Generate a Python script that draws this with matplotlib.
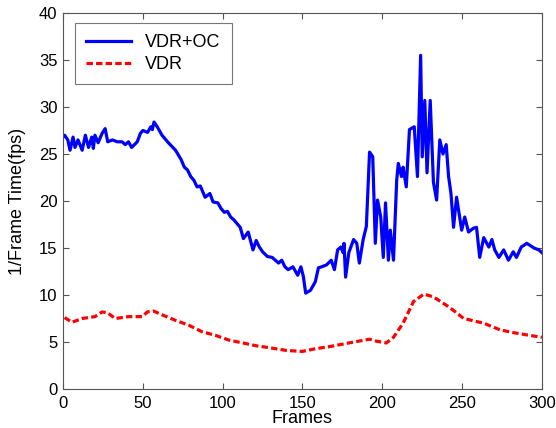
import numpy as np
import matplotlib.pyplot as plt

plt.rcParams['font.family'] = ['Liberation Sans', 'DejaVu Sans']

# --- data ---
blue_frames = [0, 1, 3, 4.4, 6.3, 7.5, 9.4, 12, 14, 16, 18, 19, 20, 22, 24.5, 26.4, 28, 31, 34, 37,
               39, 41, 43, 46.5, 48.5, 50, 53, 55, 56, 57, 59, 62, 66, 70.5, 74, 76, 78, 80, 82, 84, 86,
               89, 92, 94, 97, 99, 101, 103, 105, 107, 109, 111, 113, 116, 119, 121, 123, 125, 128, 131,
               133, 135, 137, 139, 141, 144, 147, 149,
               150.5, 152, 155, 158, 160, 162, 165, 168, 170, 172, 174, 175.5, 176, 177, 179, 182, 184,
               185.6, 188, 190, 192, 194, 195.6, 197, 199, 200.6, 202, 203.8, 205, 207, 209, 210, 212,
               213, 215, 217, 220, 222, 224, 225, 226.6, 228, 230, 232, 234, 236, 238, 240, 241.5, 243,
               244.6, 246.5, 248.4, 249.7, 251.6, 254, 257, 259, 261, 263.5, 266.7, 268.6, 270.4, 273,
               276, 279, 282, 284, 287, 290.5, 295, 298, 300]
vdr_oc = [26.8, 27.0, 26.5, 25.4, 26.8, 25.7, 26.5, 25.4, 27.0, 25.7, 26.8, 25.6, 27.0, 26.2, 27.2, 27.7,
          26.3, 26.5, 26.3, 26.3, 26.0, 26.3, 25.7, 26.3, 27.2, 27.5, 27.3, 27.9, 27.6, 28.4, 27.9, 27.0,
          26.2, 25.4, 24.4, 23.6, 23.3, 22.6, 22.2, 21.5, 21.6, 20.4, 20.8, 19.9, 19.8, 19.2, 18.8,
          18.9, 18.3, 18.0, 17.6, 17.2, 16.0, 16.7, 14.8, 15.8,
          15.1, 14.6, 14.1, 14.0, 13.7, 13.4, 13.7, 13.0, 12.7, 13.0, 12.1, 13.0, 12.0, 10.2, 10.5, 11.4,
          12.9, 13.0,
          13.2, 13.7, 12.7, 14.8, 15.1, 14.5, 15.5, 11.9, 14.5, 15.9, 15.5, 13.4, 15.9, 17.3, 25.2, 24.7,
          15.5, 20.1, 18.3, 14.0, 19.8, 13.7, 16.9, 13.7, 22.2, 24.0, 22.6, 23.6, 21.5, 27.6, 27.9, 22.6,
          35.5, 24.7, 30.7, 23.0, 30.7, 22.0, 20.1, 26.5, 25.0, 26.0, 22.6, 20.8, 17.2, 20.4, 18.3, 16.9,
          18.3, 16.7, 17.1, 17.2, 14.0, 16.1, 15.1, 15.9, 14.8, 14.0, 14.8, 13.7, 14.6, 14.0, 15.1, 15.5,
          15.0, 14.8, 14.5]

red_frames = [1, 5.6, 12, 20, 24.5, 28, 32.7, 41, 49.7, 52.8, 56.6, 62, 70.5, 78.6, 87, 95.6, 104,
              112.6, 121, 129, 140, 150, 158.5, 166.7, 179, 192, 196, 202.5, 207, 213, 219.5, 226, 232,
              242, 251, 263.5, 273.6, 282, 292.5, 300]
vdr = [7.6, 7.1, 7.5, 7.7, 8.2, 8.1, 7.5, 7.7, 7.7, 8.2, 8.3, 7.9, 7.3, 6.8, 6.1, 5.7, 5.2, 4.9, 4.6,
       4.4, 4.1, 4.0, 4.3, 4.5, 4.9, 5.3, 5.1, 4.9, 5.5, 7.0, 9.3, 10.1, 9.8, 8.7, 7.5, 7.0, 6.3, 6.0,
       5.7, 5.5]

fig = plt.figure(figsize=(5.56, 4.28), dpi=100)
ax = fig.add_axes([0.1133, 0.0911, 0.8615, 0.8785])

ax.plot(blue_frames, vdr_oc, color='#0000ff', lw=2.3, label='VDR+OC')
ax.plot(red_frames, vdr, color='#ff0000', lw=2.3, ls=(0, (2, 1)), label='VDR')

ax.set_xlim(0, 300)
ax.set_ylim(0, 40)
ax.set_xticks(np.arange(0, 301, 50))
ax.set_yticks(np.arange(0, 41, 5))
ax.tick_params(direction='in', top=True, right=True, labelsize=12, length=4, pad=4,
               color='#555555')
ax.tick_params(axis='x', pad=5)
for s in ax.spines.values():
    s.set_linewidth(0.8)
    s.set_color('#555555')

ax.set_xlabel('Frames', fontsize=13, labelpad=-1)
ax.set_ylabel('1/Frame Time(fps)', fontsize=13, labelpad=9)

leg = ax.legend(loc='upper left', bbox_to_anchor=(0.025, 0.973), borderaxespad=0,
                fontsize=13, fancybox=False, edgecolor='#555555', handlelength=2.5,
                borderpad=0.6, labelspacing=0.3, handletextpad=0.8)
leg.get_frame().set_linewidth(0.8)

fig.savefig('out.png', dpi=100)
